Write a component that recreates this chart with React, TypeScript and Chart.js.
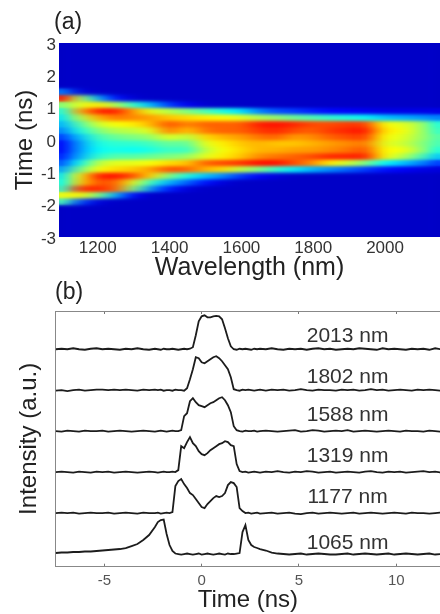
import React, { useEffect, useRef } from "react";
import { Chart, registerables } from "chart.js";

Chart.register(...registerables);

const FONT = "'Liberation Sans', Arial, sans-serif";

/* ---------- panel (a): spectro-temporal map ---------- */
const wavelengths = [1100,1150,1200,1250,1300,1350,1400,1450,1500,1550,1600,1650,1700,1750,1800,1850,1900,1950,2000,2050,2100,2150];
const wavelengthTicks = [1200, 1400, 1600, 1800, 2000];
const timeTicks = [-3, -2, -1, 0, 1, 2, 3];
const timeBands = [
  [1.6, 3], [1.4, 1.6], [1.2, 1.4], [1.0, 1.2], [0.8, 1.0], [0.6, 0.8], [0.4, 0.6], [0.2, 0.4], [0.0, 0.2],
  [-0.2, 0.0], [-0.4, -0.2], [-0.6, -0.4], [-0.8, -0.6], [-1.0, -0.8], [-1.2, -1.0], [-1.4, -1.2], [-1.6, -1.4],
  [-1.8, -1.6], [-2.0, -1.8], [-3, -2.0],
];
const intensityRows = [
  [7,7,7,7,7,7,7,7,7,7,7,7,7,7,7,7,7,7,7,7,7,7],
  [25,9,7,7,7,7,7,7,7,7,7,7,7,7,7,7,7,7,7,7,7,7],
  [86,55,30,14,8,7,7,7,7,7,7,7,7,7,7,7,7,7,7,7,7,7],
  [50,60,65,55,42,30,18,11,8,7,7,7,7,7,7,7,7,7,7,7,7,7],
  [40,70,84,85,72,60,55,50,45,40,35,25,20,18,15,13,12,11,10,10,10,10],
  [35,55,70,76,74,72,68,66,64,62,60,55,52,48,45,42,40,38,32,30,28,25],
  [30,45,58,62,64,70,80,74,78,78,78,85,86,84,80,80,82,82,62,60,55,40],
  [25,40,50,55,56,60,76,68,76,78,78,82,84,80,78,82,84,86,65,62,55,42],
  [18,32,44,48,50,52,60,55,66,70,72,76,78,72,74,78,80,82,62,60,54,45],
  [12,28,40,42,42,44,48,46,60,64,68,70,68,68,70,72,74,76,60,58,52,44],
  [12,28,38,40,38,40,44,42,56,62,66,70,70,72,72,74,76,80,62,62,54,40],
  [15,30,42,46,46,48,50,52,60,64,68,74,76,78,80,84,84,85,62,56,46,32],
  [20,38,56,60,60,62,66,68,78,80,82,86,86,80,74,64,58,50,38,32,26,18],
  [28,48,62,66,68,72,80,78,70,66,56,50,42,36,30,26,22,18,14,12,10,9],
  [35,62,85,86,80,66,50,40,32,26,18,12,9,7,7,7,7,7,7,7,7,7],
  [38,66,80,78,60,42,30,22,14,9,7,7,7,7,7,7,7,7,7,7,7,7],
  [42,82,84,78,50,26,15,9,7,7,7,7,7,7,7,7,7,7,7,7,7,7],
  [60,64,50,30,12,7,7,7,7,7,7,7,7,7,7,7,7,7,7,7,7,7],
  [45,20,9,7,7,7,7,7,7,7,7,7,7,7,7,7,7,7,7,7,7,7],
  [7,7,7,7,7,7,7,7,7,7,7,7,7,7,7,7,7,7,7,7,7,7],
];

/* ---------- panel (b): pulse traces ---------- */
const timeGrid = [
  -7.5,-7.2,-6.9,-6.6,-6.3,-6,-5.7,-5.4,-5.1,-4.8,-4.5,-4.2,-3.9,-3.6,-3.3,-3,-2.7,
  -2.4,-2.25,-2.1,-1.95,-1.8,-1.65,-1.5,-1.35,-1.2,-1.05,-0.9,-0.75,-0.6,-0.45,-0.3,-0.15,0,0.15,0.3,0.45,0.6,0.75,0.9,1.05,1.2,1.35,1.5,1.65,1.8,1.95,2.1,2.25,2.4,2.55,2.7,2.85,3,
  3.3,3.6,3.9,4.2,4.5,4.8,5.1,5.4,5.7,6,6.3,6.6,6.9,7.2,7.5,7.8,8.1,8.4,8.7,9,9.3,9.6,9.9,10.2,10.5,10.8,11.1,11.4,11.7,12,12.3,
];
const trace2013 = [
  0,0.5,0,1,0,-0.5,0.5,1,0,0.5,0,-0.5,0.5,0,1,0,-0.5,
  0.5,0,-0.5,0.5,0,0,0.5,0,-0.5,0,0.5,0,0.5,2,14,28,33,34,32,32,33,33.5,33,30,21,11,3,0,-0.5,0.5,0,0.5,0,-0.5,0.5,0,0.5,
  0,1,0,-0.5,0.5,0,0.5,-0.5,0.5,1,0,0.5,-0.5,0,0.5,0,1,0.5,0,-0.5,1,0,0.5,0,-0.5,0.5,0,0.5,-0.5,1,0,
];
const trace1802 = [
  -0.5,0,-1,0,0.5,-0.5,0,0.5,0.5,0,0.5,0,0.5,0,-0.5,0.5,0,
  0.5,0,0.5,-0.5,0,0,-0.5,0.5,0,0,-0.5,2,11,21,33,32,28,27,29,31,33,34,32,29,25,21,13,1,0,-0.5,0.5,0,0.5,0,-0.5,0,0.5,
  -0.5,0.5,0,0.5,-0.5,0,1,0,-0.5,0.5,0,0,-0.5,0.5,0,0.5,-0.5,0,1,0,0.5,-0.5,0,0.5,0,-0.5,0.5,0,0.5,0,-0.5,
];
const trace1588 = [
  0,-0.5,0.5,0,-0.5,0.5,0,0,0.5,-0.5,0,0.5,0,-0.5,0,0.5,0,
  -0.5,0,0.5,0,-0.5,0,0.5,0,0,1,15,18,30,33,29,26,25,24,26,28,29,31,33,34,31,26,19,5,1,0,-0.5,0.5,0,0,0.5,-0.5,0,
  0.5,0,-0.5,0,0.5,1,-0.5,0,1,0.5,-0.5,0,0.5,0,1,-0.5,0,0.5,0,-0.5,0,0.5,0,-0.5,0.5,0,0,-0.5,0.5,0,-0.5,
];
const trace1319 = [
  0,0.5,0,-0.5,0.5,0,-0.5,0.5,0,0.5,-0.5,0,0.5,0,-0.5,0,0.5,
  0,-0.5,0,0.5,0,0,0.5,0,2,26,24,30,35,29,26,21,18,17,19,22,24,26,28,29,31,30,27,26,8,1,0,0.5,-0.5,0,0.5,0,-0.5,0.5,
  0,1,0,-0.5,0.5,0,1,0.5,-0.5,0,0.5,-0.5,0,0.5,0,-0.5,0.5,1,0,-0.5,0.5,0,0.5,-0.5,0,0.5,1,0,0.5,-0.5,0,
];
const trace1177 = [
  0,0.5,0,0.5,-0.5,0,0.5,0,0,0.5,-0.5,0,0.5,0,-0.5,0.5,0,
  0,0.5,-0.5,0,0.5,0,1,27,32,34,29,25,20,18,14,10,6,5,9,12,15,17,16,17,20,28,31,30,26,5,2,0,0.5,-0.5,0,0.5,-0.5,0,
  0.5,-0.5,0,0.5,-0.5,-1,0,0.5,-0.5,0,0.5,0,-0.5,0,0.5,-0.5,0,0.5,0,-0.5,0,0.5,0,-0.5,0.5,0,0,-0.5,0,0.5,-0.5,
];
const trace1065 = [
  1,1.5,1.5,2,2,2.5,2.5,3,3.5,4,4.5,5,6,8,10,14,19,
  27,32,34,34.5,20,9,3,0.5,0,-0.5,0,0.5,0,-0.5,0,0.5,-0.5,0,0.5,0,-0.5,0,0.5,0,-0.5,0.5,0,0,0.5,1,22,29,14,9,7,6,5,
  3.5,1.5,0.5,0,-0.5,0,0.5,-0.5,0,0.5,0,-0.5,-0.5,0,0.5,-0.5,0,0.5,0,-0.5,0,0.5,-0.5,0,0.5,0,-0.5,0,0.5,-0.5,0,
];
const traceLabels = ["2013 nm", "1802 nm", "1588 nm", "1319 nm", "1177 nm", "1065 nm"];
const traces = [trace2013, trace1802, trace1588, trace1319, trace1177, trace1065];
const traceOffsets = [217.7, 176.7, 135.7, 94.7, 53.7, 12.7];
const labelHeights = [230.7, 189.7, 151.7, 110.7, 69.7, 23.7];
const pulseTicks = [-5, 0, 5, 10];

function jet(percent: number) {
  const v = percent / 100;
  const c = (a: number) => Math.round(255 * Math.max(0, Math.min(1, a)));
  return `rgb(${c(Math.min(4 * v - 1.5, -4 * v + 4.5))},${c(Math.min(4 * v - 0.5, -4 * v + 3.5))},${c(Math.min(4 * v + 0.5, -4 * v + 2.5))})`;
}

const smoothMap = {
  id: "smoothMap",
  afterDatasetsDraw(chart: any) {
    const { left, top, width, height } = chart.chartArea;
    const squeeze = 6;
    const off = document.createElement("canvas");
    off.width = Math.round(width / squeeze);
    off.height = Math.round(height);
    const o = off.getContext("2d")!;
    o.imageSmoothingEnabled = true;
    o.imageSmoothingQuality = "high";
    o.drawImage(chart.canvas, left, top, width, height, 0, 0, off.width, off.height);
    o.filter = "blur(1.6px)";
    o.drawImage(off, 0, 0);
    o.filter = "none";
    const ctx = chart.ctx;
    ctx.save();
    ctx.beginPath();
    ctx.rect(left, top, width, height);
    ctx.clip();
    ctx.imageSmoothingEnabled = true;
    ctx.imageSmoothingQuality = "high";
    ctx.drawImage(off, 0, 0, off.width, off.height, left, top, width, height);
    ctx.restore();
  },
};

const panelLabel = (id: string, text: string, x: number, y: number) => ({
  id,
  afterDraw(chart: any) {
    const ctx = chart.ctx;
    ctx.save();
    ctx.font = `23px ${FONT}`;
    ctx.fillStyle = "#222";
    ctx.textAlign = "left";
    ctx.textBaseline = "middle";
    ctx.fillText(text, x, y);
    ctx.restore();
  },
});

const traceTags = {
  id: "traceTags",
  afterDatasetsDraw(chart: any) {
    const ctx = chart.ctx;
    ctx.save();
    ctx.font = `21px ${FONT}`;
    ctx.fillStyle = "#333";
    ctx.textAlign = "center";
    ctx.textBaseline = "middle";
    traceLabels.forEach((t, i) => {
      ctx.fillText(t, chart.scales.x.getPixelForValue(7.5), chart.scales.y.getPixelForValue(labelHeights[i]));
    });
    ctx.restore();
  },
};

export default function App() {
  const topRef = useRef<HTMLCanvasElement>(null);
  const botRef = useRef<HTMLCanvasElement>(null);

  useEffect(() => {
    const mapChart = new Chart(topRef.current!, {
      type: "bar",
      data: {
        datasets: intensityRows.map((row, r) => ({
          label: `band ${r}`,
          data: row.map((_, i) => ({ x: wavelengths[i], y: timeBands[r] })),
          backgroundColor: row.map(jet),
          borderWidth: 0,
          grouped: false,
          barThickness: 19,
        })),
      } as any,
      options: {
        responsive: false,
        animation: false,
        devicePixelRatio: 1,
        layout: { autoPadding: false, padding: { top: 43, left: 0, right: 0, bottom: 0 } },
        plugins: { legend: { display: false }, tooltip: { enabled: false } },
        scales: {
          x: {
            type: "linear",
            min: 1092,
            max: 2153,
            offset: false,
            grid: { display: false, drawTicks: false },
            border: { display: false },
            afterBuildTicks: (s: any) => { s.ticks = wavelengthTicks.map((value) => ({ value })); },
            afterFit: (s: any) => { s.height = 45; },
            ticks: { color: "#333", font: { family: FONT, size: 17 }, padding: 1, maxRotation: 0, autoSkip: false, callback: (v: any) => String(v) },
            title: { display: true, text: "Wavelength (nm)", color: "#222", font: { family: FONT, size: 25, lineHeight: 1 }, padding: { top: 0, bottom: 1.5 } },
          },
          y: {
            type: "linear",
            min: -3,
            max: 3,
            grid: { display: false, drawTicks: false },
            border: { display: false },
            afterBuildTicks: (s: any) => { s.ticks = timeTicks.map((value) => ({ value })); },
            afterFit: (s: any) => { s.width = 59; },
            ticks: { color: "#333", font: { family: FONT, size: 17 }, padding: 3, autoSkip: false, labelOffset: 2 },
            title: { display: true, text: "Time (ns)", color: "#222", font: { family: FONT, size: 24, lineHeight: 1 }, padding: { top: 13, bottom: 0 } },
          },
        },
      } as any,
      plugins: [smoothMap, panelLabel("labelA", "(a)", 54, 23)],
    });

    const pulseChart = new Chart(botRef.current!, {
      type: "line",
      data: {
        datasets: traces.map((t, i) => ({
          label: traceLabels[i],
          data: t.map((v, k) => ({ x: timeGrid[k], y: v + traceOffsets[i] })),
          borderColor: "#1c1c1c",
          borderWidth: 1.8,
          pointRadius: 0,
          tension: 0,
          fill: false,
        })),
      },
      options: {
        responsive: false,
        animation: false,
        devicePixelRatio: 1,
        layout: { autoPadding: false, padding: { top: 33, left: 0, right: 0, bottom: 0 } },
        plugins: { legend: { display: false }, tooltip: { enabled: false } },
        scales: {
          x: {
            type: "linear",
            min: -7.5,
            max: 12.25,
            grid: { drawOnChartArea: false, tickLength: -3, color: "#777" },
            border: { display: true, color: "#888", width: 1 },
            afterBuildTicks: (s: any) => { s.ticks = pulseTicks.map((value) => ({ value })); },
            afterFit: (s: any) => { s.height = 47.3; },
            ticks: { color: "#555", font: { family: FONT, size: 15 }, padding: 8, maxRotation: 0, autoSkip: false },
            title: { display: true, text: "Time (ns)", color: "#222", font: { family: FONT, size: 24, lineHeight: 1 }, padding: { top: 0, bottom: 1.5 } },
          },
          xTop: {
            type: "linear",
            position: "top",
            min: -7.5,
            max: 12.25,
            grid: { drawOnChartArea: false, tickLength: -3, color: "#777" },
            border: { display: true, color: "#888", width: 1 },
            afterBuildTicks: (s: any) => { s.ticks = pulseTicks.map((value) => ({ value })); },
            afterFit: (s: any) => { s.height = 0; },
            ticks: { display: false },
          },
          y: {
            type: "linear",
            min: 0,
            max: 256,
            grid: { display: false },
            border: { display: true, color: "#888", width: 1 },
            afterFit: (s: any) => { s.width = 55.7; },
            ticks: { display: false },
            title: { display: true, text: "Intensity (a.u.)", color: "#222", font: { family: FONT, size: 24, lineHeight: 1 }, padding: { top: 17, bottom: 0 } },
          },
        },
      } as any,
      plugins: [traceTags, panelLabel("labelB", "(b)", 55, 15)],
    });

    return () => {
      mapChart.destroy();
      pulseChart.destroy();
    };
  }, []);

  return (
    <div style={{ position: "fixed", left: 0, top: 0, width: 440, height: 614, background: "#fff", overflow: "hidden" }}>
      <canvas ref={topRef} width={440} height={282} style={{ position: "absolute", left: 0, top: 0, display: "block" }} />
      <canvas ref={botRef} width={440} height={336} style={{ position: "absolute", left: 0, top: 278, display: "block" }} />
    </div>
  );
}
